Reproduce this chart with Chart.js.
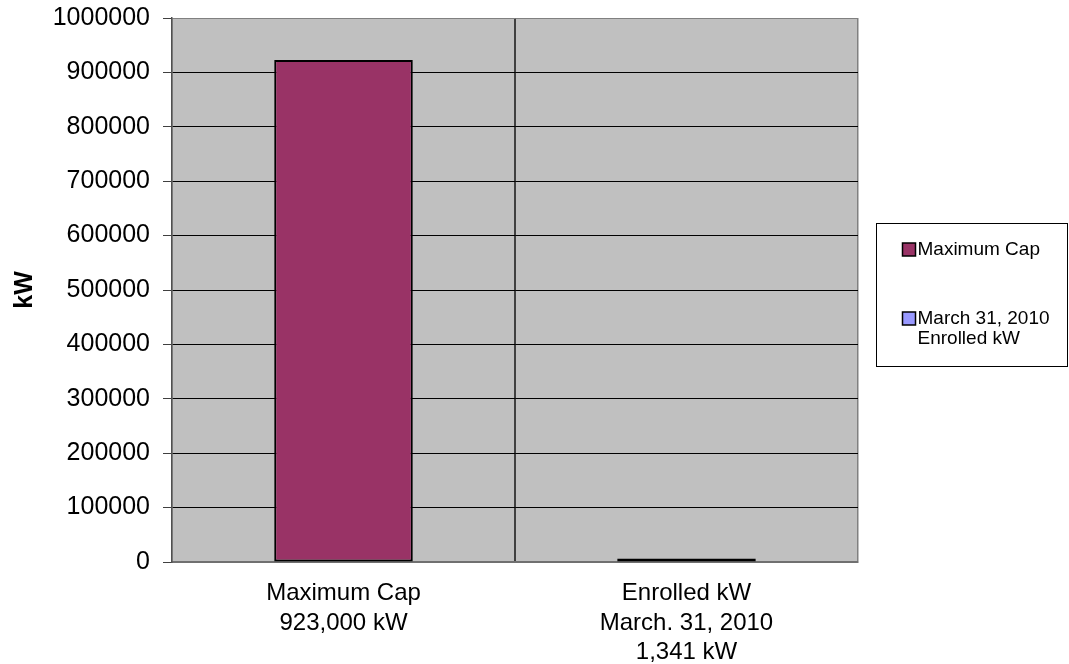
<!DOCTYPE html>
<html>
<head>
<meta charset="utf-8">
<script src="https://cdn.jsdelivr.net/npm/chart.js@4"></script>
<style>
  html, body { margin: 0; padding: 0; background: #fff; }
  #wrap { width: 1069px; height: 664px; }
</style>
</head>
<body>
<div id="wrap"><canvas id="chart"></canvas></div>
<script>
// values
const categories = [
  ['Maximum Cap', '923,000 kW'],
  ['Enrolled kW', 'March. 31, 2010', '1,341 kW']
];
const maxCapValues = [923000, null];
const enrolledValues = [null, 1341];
const seriesNames = [['Maximum Cap'], ['March 31, 2010', 'Enrolled kW']];
const seriesColors = ['#993366', '#9999FF'];
const yMin = 0;
const yMax = 1000000;
const yStep = 100000;

const FONT = "'Liberation Sans', Arial, sans-serif";

// grey plot area behind the grid
const plotBackground = {
  id: 'plotBackground',
  beforeDraw(chart) {
    const { ctx, chartArea: a } = chart;
    ctx.save();
    ctx.fillStyle = '#C0C0C0';
    ctx.fillRect(a.left, a.top, a.right - a.left, a.bottom - a.top);
    ctx.restore();
  }
};

// boxed legend on the right, with two-line entry
const boxLegend = {
  id: 'boxLegend',
  afterDraw(chart) {
    const { ctx, chartArea: a } = chart;
    const left = a.right + 18.5;
    const right = chart.width - 1.5;
    const h = 143;
    const top = Math.round((a.top + a.bottom) / 2 - h / 2 + 4) + 0.5;
    ctx.save();
    ctx.strokeStyle = '#000';
    ctx.lineWidth = 1;
    ctx.strokeRect(left, top, right - left, h);
    ctx.font = '19px ' + FONT;
    ctx.textBaseline = 'middle';
    ctx.textAlign = 'left';
    const rowY = [top + 26, top + 95];
    seriesNames.forEach((lines, i) => {
      const y = rowY[i];
      ctx.fillStyle = seriesColors[i];
      ctx.fillRect(left + 26, y - 6.5, 13, 13);
      ctx.strokeStyle = '#000';
      ctx.lineWidth = 1.5;
      ctx.strokeRect(left + 26, y - 6.5, 13, 13);
      ctx.fillStyle = '#000';
      lines.forEach((t, j) => ctx.fillText(t, left + 41, y + j * 20));
    });
    ctx.restore();
  }
};

new Chart(document.getElementById('chart'), {
  type: 'bar',
  data: {
    labels: categories,
    datasets: [
      {
        label: seriesNames[0].join(' '),
        data: maxCapValues,
        backgroundColor: seriesColors[0]
      },
      {
        label: seriesNames[1].join(' '),
        data: enrolledValues,
        backgroundColor: seriesColors[1]
      }
    ]
  },
  options: {
    responsive: true,
    maintainAspectRatio: false,
    animation: false,
    layout: { padding: { top: 18, right: 211, left: 0, bottom: 0 } },
    datasets: {
      bar: {
        skipNull: true,
        categoryPercentage: 1,
        barPercentage: 0.404,
        borderColor: '#000',
        borderWidth: 2,
        borderSkipped: false,
        minBarLength: 3.5
      }
    },
    plugins: {
      legend: { display: false },
      tooltip: { enabled: false }
    },
    scales: {
      x: {
        afterFit: (s) => { s.height = 102; s.paddingLeft = 0; s.paddingRight = 0; },
        grid: {
          offset: true,
          drawTicks: false,
          color: (c) => c.index === 1 ? '#404040' : '#808080',
          lineWidth: (c) => c.index === 1 ? 2 : 1.5
        },
        border: { color: '#707070', width: 2 },
        ticks: {
          color: '#000',
          padding: 17,
          font: { family: FONT, size: 24, lineHeight: 1.22 }
        }
      },
      y: {
        min: yMin,
        max: yMax,
        afterFit: (s) => { s.width = 172; s.paddingTop = 0; s.paddingBottom = 0; },
        grid: {
          color: (c) => c.tick.value === yMax ? '#808080' : (c.tick.value === 0 ? '#707070' : '#000'),
          lineWidth: 1,
          tickLength: 9,
          tickColor: '#404040'
        },
        border: { color: '#505050', width: 1.5 },
        ticks: {
          stepSize: yStep,
          color: '#000',
          padding: 13,
          font: { family: FONT, size: 25 },
          callback: (v) => String(v)
        },
        title: {
          display: true,
          text: 'kW',
          color: '#000',
          padding: { top: 10, bottom: 0 },
          font: { family: FONT, size: 25, weight: 'bold', lineHeight: 1.2 }
        }
      }
    }
  },
  plugins: [plotBackground, boxLegend]
});
</script>
</body>
</html>
